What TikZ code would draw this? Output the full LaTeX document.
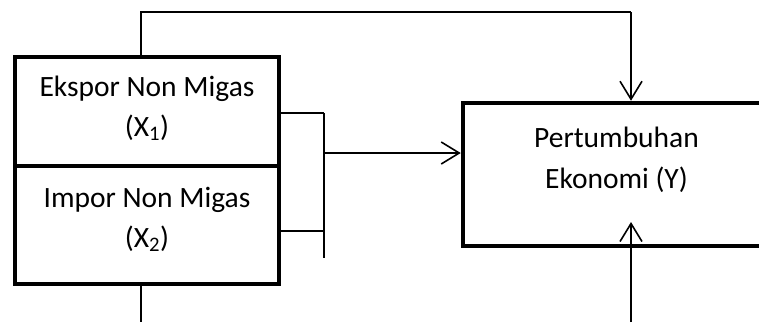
\documentclass[tikz,border=0pt]{standalone}
\usepackage{fontspec}
\setmainfont{Carlito}
\usetikzlibrary{arrows.meta}
\tikzset{
  box/.style={draw, line width=4.5pt, rectangle, inner sep=0pt},
  lbl/.style={anchor=base, inner sep=0pt, font=\fontsize{29.5}{34}\selectfont},
  conn/.style={line width=1.6pt},
  stub/.style={line width=1.2pt},
  tip/.style={-{Straight Barb[length=18pt,width=22pt,line width=1.6pt]}}
}
\begin{document}
\begin{tikzpicture}[x=1pt,y=-1pt]
\useasboundingbox (0,0) rectangle (759,322);
% boxes
\node[box, minimum width=264pt, minimum height=109pt] (ex) at (147,111.5) {};
\node[box, minimum width=264pt, minimum height=118pt] (im) at (147,225) {};
\node[box, minimum width=307pt, minimum height=143pt] (py) at (616.5,174.5) {};
% texts
\node[lbl] (ex1) at (147,96) {Ekspor Non Migas};
\node[lbl] (ex2) at (147,136) {(X\textsubscript{1})};
\node[lbl] (im1) at (147,207) {Impor Non Migas};
\node[lbl] (im2) at (147,247) {(X\textsubscript{2})};
\node[lbl] (py1) at (616.5,147) {Pertumbuhan};
\node[lbl] (py2) at (616.5,188) {Ekonomi (Y)};
% coordinates
\coordinate (t1) at (141,12);
\coordinate (t2) at (631,12);
\coordinate (bot1) at (141,322);
\coordinate (bot2) at (631,322);
\coordinate (in2) at (631,222);
\coordinate (b1) at (324,113);
\coordinate (b2) at (324,231);
\coordinate (b3) at (324,258);
\coordinate (bm) at (324,153);
% connectors
\draw[conn] (ex.north -| t1) -- (t1) -- (t2);
\draw[conn, tip] (t2) -- (py.north -| t2);
\draw[conn] (im.south -| t1) -- (bot1);
\draw[conn, tip] (bot2) -- (in2);
\draw[stub] (ex.east |- b1) -- (b1);
\draw[stub] (im.east |- b2) -- (b2);
\draw[conn] (b1) -- (b3);
\draw[conn, tip] (bm) -- (py.west |- bm);
\end{tikzpicture}
\end{document}
